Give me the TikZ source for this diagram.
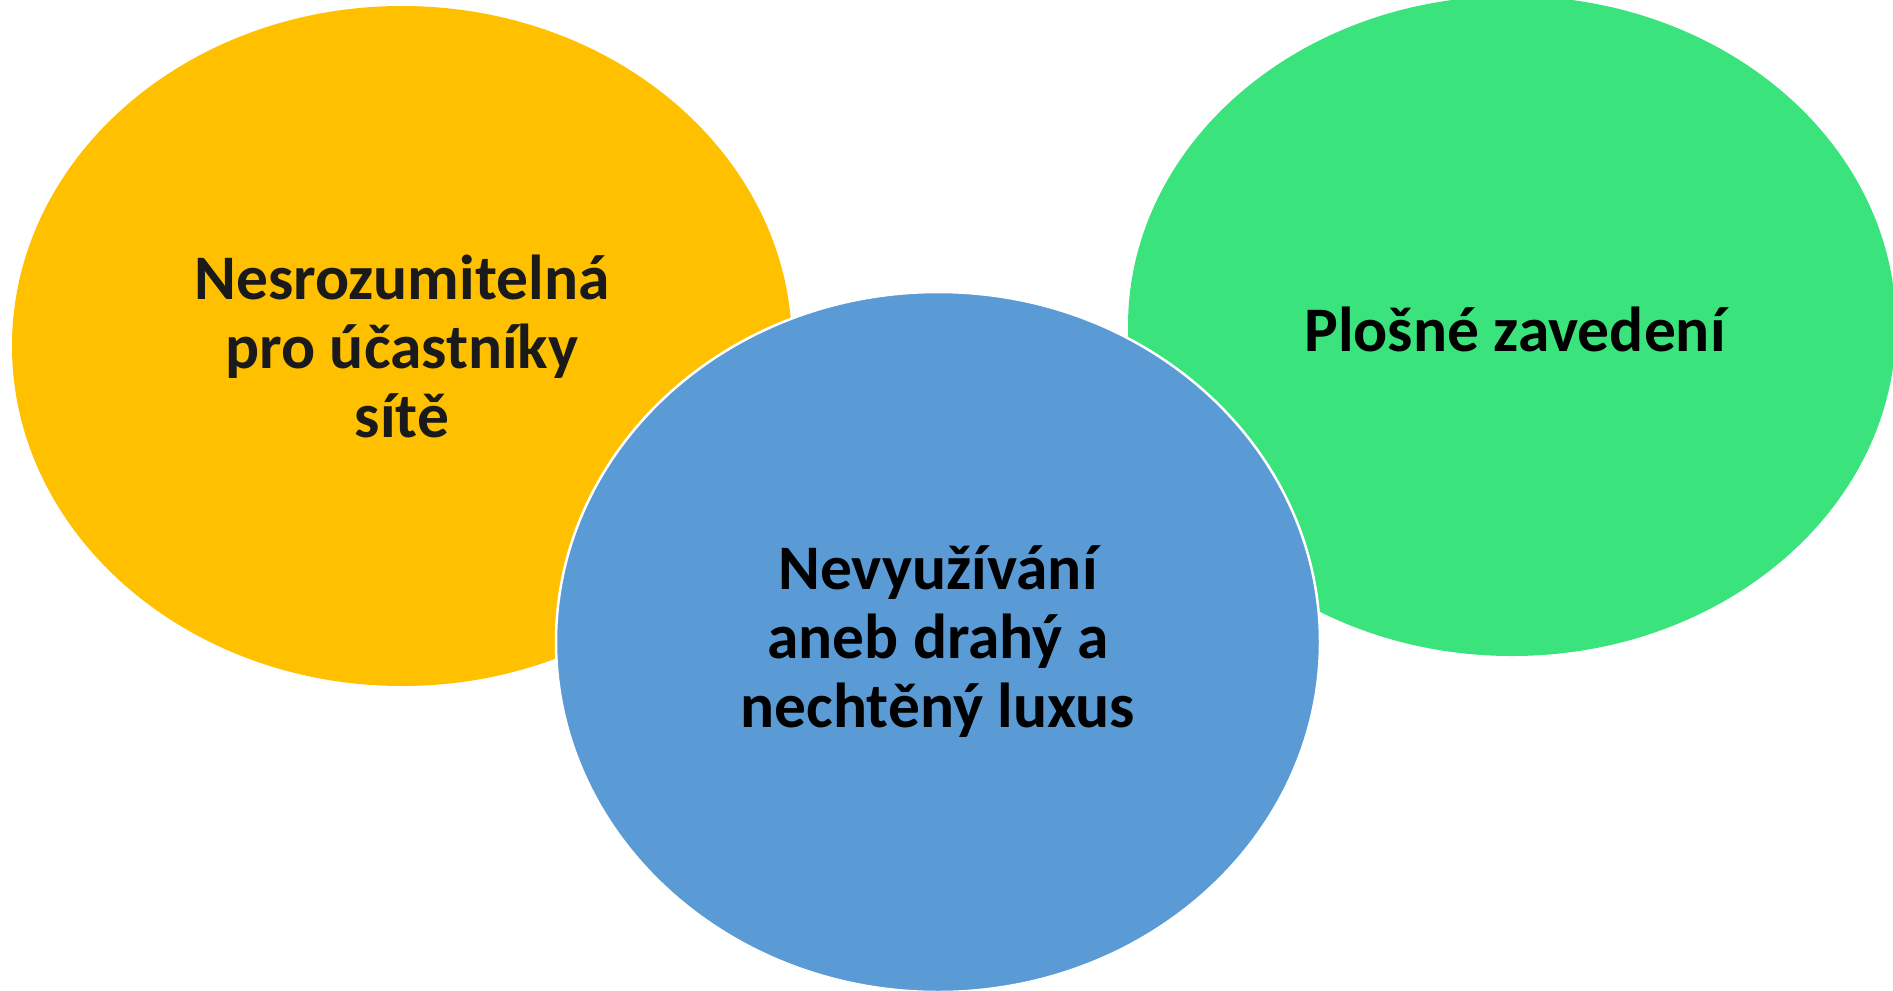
\documentclass[tikz,border=0pt]{standalone}
\usepackage{fontspec}
\setmainfont{Carlito}
\usetikzlibrary{shapes.geometric}
\definecolor{cyellow}{RGB}{255,192,0}
\definecolor{cgreen}{RGB}{59,227,125}
\definecolor{cblue}{RGB}{91,155,213}
\definecolor{ctext}{RGB}{26,26,26}
\tikzset{
  blob/.style={ellipse, inner sep=0pt, align=center},
  bigtext/.style={font=\fontsize{63.5bp}{69bp}\selectfont\bfseries},
  label text/.style={inner sep=0pt, align=center}
}
\begin{document}
\begin{tikzpicture}[x=1bp,y=-1bp]
\useasboundingbox (0,0) rectangle (1893,990);
\clip (0,0) rectangle (1893,990);
\node[blob, bigtext, fill=cyellow, text=ctext, minimum width=780bp, minimum height=680bp] (yel) at (402,346)
  {Nesrozumitelná\\pro účastníky\\sítě};
\node[blob, fill=cgreen, minimum width=768bp, minimum height=660bp] (grn) at (1512,326) {};
\node[label text, bigtext, text=black] (grntext) at ([xshift=3bp, yshift=-3bp]grn.center) {Plošné zavedení};
\node[blob, bigtext, fill=cblue, draw=white, line width=2.5bp, text=black, minimum width=764bp, minimum height=700bp] (blu) at (938,642)
  {Nevyužívání\\aneb drahý a\\nechtěný luxus};
\end{tikzpicture}
\end{document}
